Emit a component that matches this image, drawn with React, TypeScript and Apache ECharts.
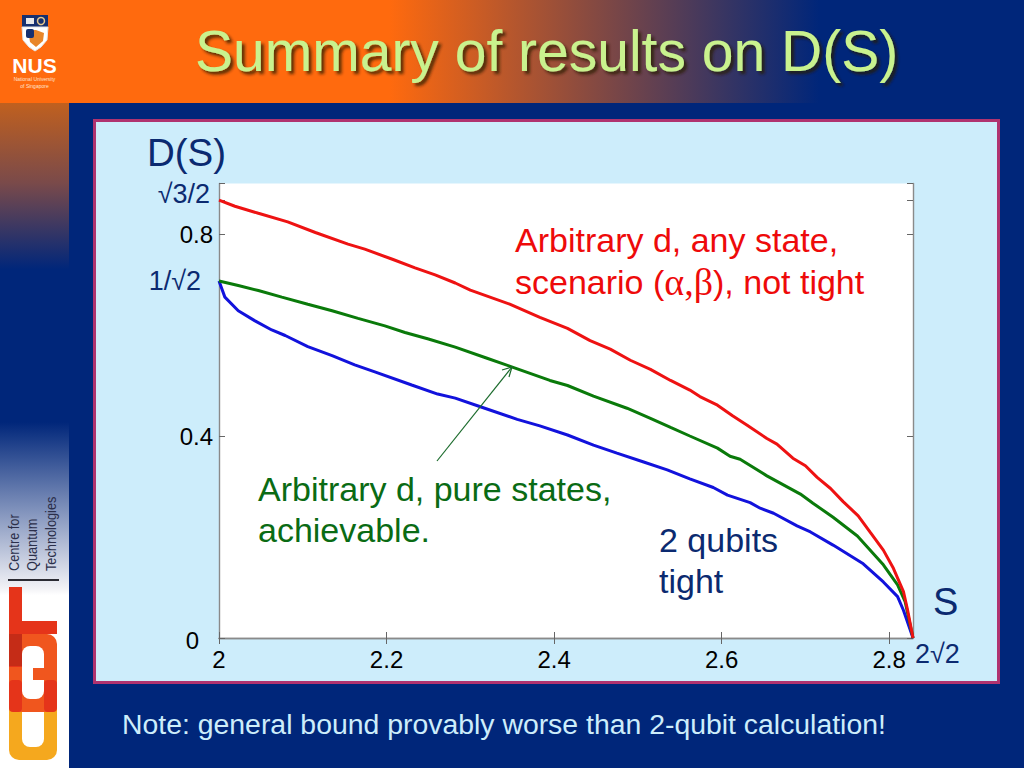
import React, { useEffect, useRef } from "react";
import * as echarts from "echarts";

const SANS = "'Liberation Sans', Arial, sans-serif";
const NAVY = "#0B2A70";
const BG = "#00267A";
const xMax = 2.8284;
const yMax = 0.9;
const xTicks = [2, 2.2, 2.4, 2.6, 2.8];
const yLabels = [0, 0.4, 0.8];
const yTicks = [0, 0.4, 0.8, 0.866, 0.9];

const redCurve = [
  [2.0, 0.867], [2.019, 0.855], [2.047, 0.841], [2.082, 0.824], [2.115, 0.803], [2.154, 0.78], [2.174, 0.77],
  [2.207, 0.75], [2.234, 0.733], [2.258, 0.719], [2.282, 0.703], [2.3, 0.689], [2.347, 0.661], [2.383, 0.635],
  [2.416, 0.613], [2.443, 0.589], [2.467, 0.572], [2.491, 0.55], [2.515, 0.532], [2.539, 0.51], [2.562, 0.491],
  [2.574, 0.478], [2.595, 0.461], [2.613, 0.44], [2.63, 0.422], [2.654, 0.395], [2.666, 0.384], [2.685, 0.356],
  [2.7, 0.341], [2.714, 0.318], [2.73, 0.296], [2.745, 0.27], [2.763, 0.242], [2.777, 0.21], [2.793, 0.174],
  [2.805, 0.138], [2.817, 0.092], [2.822, 0.055], [2.8284, 0],
];
const greenCurve = [
  [2.0, 0.707], [2.023, 0.698], [2.047, 0.688], [2.075, 0.675], [2.106, 0.661], [2.135, 0.648], [2.166, 0.633],
  [2.198, 0.618], [2.222, 0.605], [2.25, 0.592], [2.282, 0.576], [2.32, 0.554], [2.351, 0.536], [2.395, 0.51],
  [2.416, 0.5], [2.447, 0.479], [2.487, 0.455], [2.515, 0.435], [2.539, 0.417], [2.562, 0.4], [2.595, 0.376],
  [2.61, 0.36], [2.622, 0.354], [2.654, 0.321], [2.694, 0.285], [2.709, 0.267], [2.733, 0.239], [2.762, 0.202],
  [2.793, 0.145], [2.81, 0.105], [2.819, 0.072], [2.8284, 0],
];
const blueCurve = [
  [2.0, 0.707], [2.007, 0.675], [2.023, 0.648], [2.043, 0.628], [2.063, 0.61], [2.079, 0.599], [2.106, 0.577],
  [2.135, 0.559], [2.162, 0.541], [2.186, 0.527], [2.23, 0.501], [2.261, 0.483], [2.282, 0.475], [2.312, 0.458],
  [2.356, 0.433], [2.383, 0.42], [2.416, 0.402], [2.447, 0.382], [2.475, 0.366], [2.506, 0.349], [2.535, 0.333],
  [2.562, 0.315], [2.59, 0.298], [2.607, 0.283], [2.634, 0.268], [2.646, 0.257], [2.662, 0.247], [2.69, 0.222],
  [2.706, 0.21], [2.733, 0.184], [2.769, 0.147], [2.793, 0.111], [2.81, 0.082], [2.817, 0.055], [2.8284, 0],
];

const vGrad = (stops: [number, string][]) =>
  new echarts.graphic.LinearGradient(0, 0, 0, 1, stops.map(([offset, color]) => ({ offset, color })));
const hGrad = (stops: [number, string][]) =>
  new echarts.graphic.LinearGradient(0, 0, 1, 0, stops.map(([offset, color]) => ({ offset, color })));

const txt = (x: number, y: number, text: string, fontSize: number, fill: string, extra: any = {}) => ({
  type: "text",
  x,
  y,
  z: 10,
  ...extra.el,
  style: { text, fontSize, fill, fontFamily: SANS, textVerticalAlign: "middle", ...extra.style },
});
const rect = (x: number, y: number, w: number, h: number, fill: any, r = 0, z = 1) => ({
  type: "rect",
  z,
  shape: { x, y, width: w, height: h, r },
  style: { fill },
});

const background = [
  rect(0, 0, 1024, 768, BG, 0, 0),
  rect(0, 0, 1024, 103, hGrad([[0, "#FF6A0E"], [0.38, "#FF6A0E"], [0.8, BG], [1, BG]])),
  rect(0, 103, 69, 665, vGrad([
    [0, "#C0601F"], [0.12, "#7A4A4A"], [0.25, BG], [0.48, BG], [0.73, "#F2F2F6"], [0.74, "#FFFFFF"], [1, "#FFFFFF"],
  ])),
  {
    type: "rect",
    z: 1,
    shape: { x: 94.5, y: 120.5, width: 904, height: 562 },
    style: { fill: "#CDEDFB", stroke: "#B0336F", lineWidth: 3 },
  },
  rect(219, 183.5, 694, 454.5, "#FFFFFF", 0, 2),
];

const nusLogo = [
  rect(22, 15, 26, 12, "#17306F", 0, 2),
  {
    type: "polygon",
    z: 2,
    shape: { points: [[22, 27], [48, 27], [47, 40], [41, 47], [35, 51], [29, 47], [23, 40]] },
    style: { fill: "#FFFFFF", stroke: "#E5E5E5" },
  },
  { type: "polygon", z: 3, shape: { points: [[28, 30], [36, 30], [44, 33], [43, 41], [36, 47], [30, 42]] }, style: { fill: "#E8862A" } },
  rect(26, 18, 8, 6, "#E8E8E8", 0, 3),
  { type: "circle", z: 3, shape: { cx: 41, cy: 21, r: 3.5 }, style: { fill: "none", stroke: "#E8C98C", lineWidth: 1.5 } },
  rect(26, 29, 8, 9, "#17306F", 2, 4),
  txt(34.5, 65, "NUS", 21, "#FFFFFF", { style: { fontWeight: "bold", textAlign: "center" } }),
  txt(34.5, 79, "National University", 5, "#FFE2CC", { style: { textAlign: "center" } }),
  txt(34.5, 85.5, "of Singapore", 5, "#FFE2CC", { style: { textAlign: "center" } }),
];

const cqtLogo = [
  rect(9, 680, 48, 80, "#F5A81E", 10, 2),
  rect(22, 695, 22, 52, "#FFFFFF", 8, 3),
  rect(9, 634, 48, 78, "#F0561E", 10, 4),
  rect(9, 587, 13, 80, "#E5341A", 0, 5),
  rect(9, 634, 13, 32, "#C52C17", 0, 6),
  rect(22, 621, 35, 13, "#E5341A", 0, 5),
  rect(9, 680, 13, 32, "#E5341A", 4, 6),
  rect(44, 680, 13, 32, "#E5341A", 4, 6),
  rect(22, 646, 22, 53, "#FFFFFF", 8, 7),
  rect(33, 668, 24, 12, "#F0561E", 0, 8),
  rect(8, 579, 51, 2, "#2B2B33", 0, 8),
  ...[["Centre for", 14], ["Quantum", 32], ["Technologies", 51]].map(([t, x]) => ({
    type: "text",
    z: 9,
    x: x as number,
    y: 571,
    rotation: Math.PI / 2,
    scaleX: 0.85,
    style: { text: t as string, fontSize: 15, fill: "#2B2F4A", fontFamily: SANS, textVerticalAlign: "middle" },
  })),
];

const notes = [
  txt(147, 152, "D(S)", 38.5, NAVY),
  txt(933, 602, "S", 38, NAVY),
  txt(210, 194, "√3/2", 27, NAVY, { style: { textAlign: "right" } }),
  txt(201, 281, "1/√2", 27, NAVY, { style: { textAlign: "right" } }),
  txt(915, 654, "2√2", 27, NAVY),
  txt(515, 240, "Arbitrary d, any state,", 34, "#EE0A0A"),
  {
    type: "text",
    x: 515,
    y: 282,
    z: 10,
    style: {
      text: "scenario ({g|α,β}), not tight",
      fontSize: 34,
      fill: "#EE0A0A",
      fontFamily: SANS,
      textVerticalAlign: "middle",
      rich: { g: { fontFamily: "'Liberation Serif', serif", fontSize: 38, fill: "#EE0A0A" } },
    },
  },
  txt(258, 489, "Arbitrary d, pure states,", 34, "#0A6B14"),
  txt(258, 530, "achievable.", 34, "#0A6B14"),
  txt(659, 540, "2 qubits", 34, NAVY),
  txt(659, 581, "tight", 34, NAVY),
  txt(122, 724, "Note: general bound provably worse than 2-qubit calculation!", 28.4, "#CDEDFB"),
  { type: "line", z: 8, shape: { x1: 437, y1: 461, x2: 512, y2: 367 }, style: { stroke: "#1B6B2C", lineWidth: 1.2 } },
  { type: "polyline", z: 8, shape: { points: [[502, 370], [512, 367], [509, 377]] }, style: { stroke: "#1B6B2C", lineWidth: 1.2, fill: "none" } },
];

const lineSeries = (data: number[][], color: string, z: number) => ({
  type: "line",
  data,
  showSymbol: false,
  smooth: false,
  z,
  lineStyle: { color, width: 3 },
});

export default function App() {
  const ref = useRef<HTMLDivElement>(null);
  useEffect(() => {
    const chart = echarts.init(ref.current!, null, { renderer: "svg" });
    const base = { min: 0, type: "value", z: 5, splitLine: { show: false } };
    const tick = { inside: true, length: 6, lineStyle: { color: "#666", width: 1 } };
    const line = { show: true, lineStyle: { color: "#8A8A8A", width: 1.4 } };
    chart.setOption({
      animation: false,
      title: {
        text: "Summary of results on D(S)",
        left: 190,
        top: 17,
        textStyle: {
          fontFamily: SANS,
          fontSize: 57,
          fontWeight: "normal",
          color: "#C9F28E",
          textShadowColor: "rgba(40,30,0,0.75)",
          textShadowBlur: 3,
          textShadowOffsetX: 3,
          textShadowOffsetY: 3,
        },
      },
      grid: { left: 219, right: 111, top: 183.5, bottom: 130, show: false },
      xAxis: [
        {
          ...base,
          min: 2,
          max: xMax,
          position: "bottom",
          axisLine: line,
          axisTick: { ...tick, customValues: xTicks },
          axisLabel: { customValues: xTicks, color: "#000", fontSize: 24, fontFamily: SANS, margin: 9 },
        },
        {
          ...base,
          min: 2,
          max: xMax,
          position: "top",
          axisLine: line,
          axisTick: { ...tick, customValues: xTicks },
          axisLabel: { show: false },
        },
      ],
      yAxis: [
        {
          ...base,
          max: yMax,
          position: "left",
          axisLine: line,
          axisTick: { ...tick, customValues: yTicks },
          axisLabel: {
            customValues: yLabels,
            color: "#000",
            fontSize: 24,
            fontFamily: SANS,
            margin: 6,
            formatter: (v: number) => (v === 0 ? "{z|0}" : String(v)),
            rich: { z: { fontSize: 24, fontFamily: SANS, color: "#000", padding: [4, 14, 0, 0] } },
          },
        },
        {
          ...base,
          max: yMax,
          position: "right",
          axisLine: line,
          axisTick: { ...tick, customValues: yTicks },
          axisLabel: { show: false },
        },
      ],
      series: [lineSeries(blueCurve, "#1212DC", 6), lineSeries(greenCurve, "#0A7A0A", 7), lineSeries(redCurve, "#EE1212", 8)],
      graphic: { elements: [...background, ...nusLogo, ...cqtLogo, ...notes] },
    });
    return () => chart.dispose();
  }, []);
  return <div ref={ref} style={{ position: "absolute", left: 0, top: 0, width: 1024, height: 768 }} />;
}
